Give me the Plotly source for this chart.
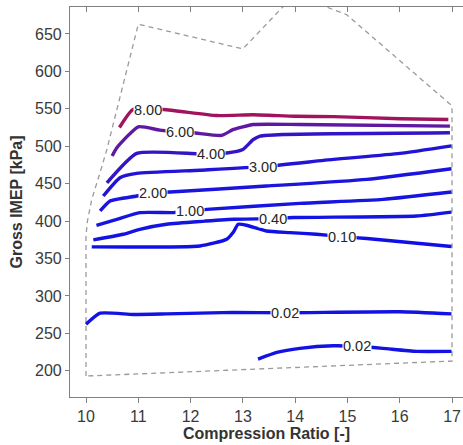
import plotly.graph_objects as go

# ---- data ----
boundary_x = [10.0, 10.0, 10.025, 10.11, 10.27, 10.40, 11.0, 13.0, 13.98, 14.98, 17.0, 17.0, 10.0]
boundary_y = [193, 380, 399, 429, 465, 496, 663, 630, 702, 676, 554, 213, 193]

levels = ["8.00", "6.00", "4.00", "3.00", "2.00", "1.00", "0.40", "0.10", "0.02", "0.02"]

c8_x = [10.64, 10.90, 11.48, 12.50, 13.20, 14.00, 14.73, 16.00, 16.93]
c8_y = [525, 549, 549, 541, 542, 540, 539.6, 536.7, 535.7]

c6_x = [10.50, 10.59, 11.00, 11.41, 11.80, 12.05, 12.59, 12.82, 13.20, 14.09, 16.96]
c6_y = [487, 498, 526, 521.5, 518.8, 518, 514.4, 522.4, 529, 529, 526.8]

c4_x = [10.40, 10.97, 12.12, 12.37, 12.69, 13.00, 13.20, 13.33, 13.77, 16.96]
c4_y = [451, 490.4, 490, 490, 491, 495.7, 509, 513.5, 515.7, 518]

c3_x = [10.33, 10.65, 10.97, 12.18, 13.39, 14.73, 16.00, 16.99]
c3_y = [433.5, 458, 463.7, 468, 472.7, 482.4, 490.4, 500.5]

c2_x = [10.27, 10.46, 10.97, 11.29, 11.61, 13.45, 15.37, 16.99]
c2_y = [413.5, 426.8, 433.5, 438, 438.8, 446.8, 455.7, 470]

c1_x = [10.20, 10.59, 11.03, 11.67, 11.99, 12.31, 14.09, 15.68, 16.99]
c1_y = [394.4, 402.4, 411.3, 411.3, 413.5, 415.7, 423.7, 429, 438.8]

c040_x = [10.14, 10.71, 11.03, 11.54, 12.82, 13.58, 13.96, 16.32, 16.99]
c040_y = [374.8, 382.4, 389, 395.7, 402.4, 403.3, 404.7, 406.8, 412]

c010_x = [10.11, 12.18, 12.69, 12.82, 12.91, 13.07, 13.45, 13.90, 14.41, 14.89, 15.37, 16.99]
c010_y = [365.5, 366.8, 375.7, 385.5, 395.7, 394.4, 386.8, 384.6, 382.4, 379.3, 376.7, 366]

c002a_x = [10.0, 10.27, 10.90, 11.54, 12.82, 13.80, 16.00, 16.99]
c002a_y = [262.3, 277, 275.3, 276, 278, 277.5, 278.8, 276]

c002b_x = [13.29, 13.65, 14.09, 14.73, 15.18, 15.68, 16.32, 16.99]
c002b_y = [215.7, 224.6, 230, 233.5, 232.7, 230, 226, 226]

label_x = [11.19, 11.80, 12.40, 13.39, 11.29, 11.99, 13.58, 14.89, 13.80, 15.18]
label_y = [549, 518.8, 490, 472.7, 438, 413.5, 403.3, 379.3, 277.5, 232.7]

x_ticks = [10, 11, 12, 13, 14, 15, 16, 17]
y_ticks = [200, 250, 300, 350, 400, 450, 500, 550, 600, 650]

# ---- styles ----
line_colors = ["#a0145e", "#5e18a2", "#3414c4", "#2214d6", "#1a14dc", "#1614e0",
               "#1414e2", "#1010e6", "#1212e2", "#1212e2"]

curves = [(c8_x, c8_y), (c6_x, c6_y), (c4_x, c4_y), (c3_x, c3_y), (c2_x, c2_y),
          (c1_x, c1_y), (c040_x, c040_y), (c010_x, c010_y), (c002a_x, c002a_y),
          (c002b_x, c002b_y)]

FONT = "Liberation Sans, Arial, sans-serif"

fig = go.Figure()

fig.add_trace(go.Scatter(x=boundary_x, y=boundary_y, mode="lines",
                         line=dict(color="#9a9a9a", width=1.3, dash="5px,4px"),
                         hoverinfo="skip", showlegend=False))

for (cx, cy), col in zip(curves, line_colors):
    fig.add_trace(go.Scatter(x=cx, y=cy, mode="lines",
                             line=dict(color=col, width=3.4, shape="spline", smoothing=0.5),
                             showlegend=False))

for lx, ly, txt in zip(label_x, label_y, levels):
    fig.add_annotation(x=lx, y=ly, text=txt, showarrow=False,
                       bgcolor="white", borderpad=0,
                       font=dict(family=FONT, size=14.5, color="#262626"))

# dummy trace for the top axis
fig.add_trace(go.Scatter(x=[None], y=[None], xaxis="x2", showlegend=False))

fig.update_layout(
    width=463, height=445,
    margin=dict(l=70, r=0, t=7, b=48),
    paper_bgcolor="white", plot_bgcolor="white",
    font=dict(family=FONT, size=16, color="#3a3a3a"),
    xaxis=dict(range=[9.694, 17.21], tickvals=x_ticks, ticks="outside", ticklen=5,
               tickcolor="#808080", showline=True, linecolor="#808080", linewidth=1.2,
               showgrid=False, zeroline=False,
               tickfont=dict(size=16, color="#3a3a3a"),
               title=dict(text="<b>Compression Ratio [-]</b>", standoff=2,
                          font=dict(size=16, color="#333333"))),
    xaxis2=dict(range=[9.694, 17.21], overlaying="x", side="top", tickvals=x_ticks,
                ticks="inside", ticklen=5, tickcolor="#808080", showticklabels=False,
                showline=True, linecolor="#808080", linewidth=1.2, showgrid=False,
                zeroline=False),
    yaxis=dict(range=[165, 686], tickvals=y_ticks, ticks="outside", ticklen=4,
               tickcolor="#808080", showline=True, linecolor="#808080", linewidth=1.2,
               showgrid=False, zeroline=False,
               tickfont=dict(size=16, color="#3a3a3a"),
               title=dict(text="<b>Gross IMEP [kPa]</b>", standoff=8,
                          font=dict(size=16, color="#333333"))),
)

fig.write_html("out.html")
